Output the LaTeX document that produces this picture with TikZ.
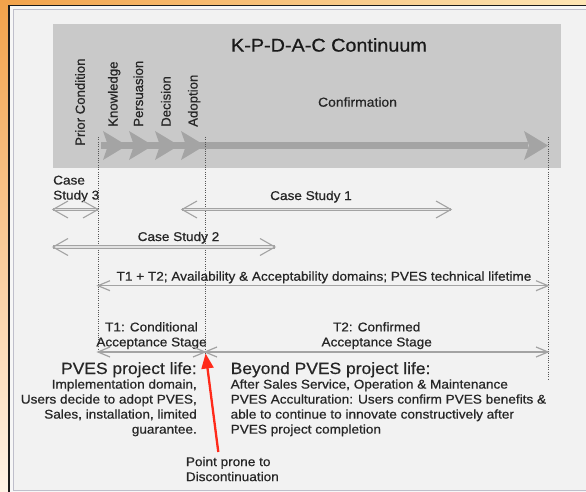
\documentclass[tikz,border=0pt]{standalone}
\usepackage{fontspec}
\setmainfont{Liberation Sans}[FakeStretch=1.07,FakeBold=0.6]
\newfontfamily\vfont{Liberation Sans}[FakeBold=0.6]
\usetikzlibrary{arrows.meta,shadings}
\definecolor{txt}{HTML}{262626}
\definecolor{panel}{HTML}{C9C9C9}
\definecolor{bgin}{HTML}{F2F2F2}
\definecolor{arr}{HTML}{A3A3A3}
\definecolor{dblin}{HTML}{E2E2E2}
\definecolor{chev}{HTML}{A4A4A4}
\definecolor{dotc}{HTML}{555555}
\definecolor{org1}{HTML}{F2A24A}
\definecolor{org2}{HTML}{FDE5B4}
\definecolor{org3}{HTML}{FFF3E6}
\definecolor{frame}{HTML}{1C1C1C}
\definecolor{inb}{HTML}{BFBFCB}
\definecolor{redarr}{HTML}{FF2A1A}
\begin{document}
\begin{tikzpicture}[x=1pt,y=-1pt,
  lbl/.style={font=\fontsize{12.7}{15}\selectfont, text=txt, inner sep=0pt},
  hdl/.style={font=\fontsize{16.3}{18}\selectfont, text=txt, inner sep=0pt},
  vlbl/.style={font=\vfont\fontsize{13.2}{15}\selectfont, text=txt, inner sep=0pt, rotate=90, anchor=base west},
  dshaft/.style={draw=arr, line width=1.1pt, double=dblin, double distance=1.3pt},
  dheadline/.style={draw=arr, line width=1.1pt},
  sshaft/.style={draw=arr, line width=1.4pt},
  sheadline/.style={draw=arr, line width=1.2pt},
  dotline/.style={draw=dotc, line width=1pt, dash pattern=on 1pt off 1.3pt},
  chevfill/.style={fill=chev},
  dheadL/.pic={\draw[dheadline] (15,-8.5) -- (0,0) -- (15,8.5);},
  sheadL/.pic={\draw[sheadline] (12,-5) -- (0,0) -- (12,5);},
  chevhd/.pic={\fill[chevfill] (-24,-14.5) -- (0,0) -- (-24,14.5) -- (-19,0) -- cycle;},
]
\useasboundingbox (0,0) rectangle (586,492);
\clip (0,0) rectangle (586,492);
% background frame
\shade[upper left=org1, upper right=org2, lower left=org3, lower right=white] (0,0) rectangle (586,492);
\filldraw[fill=white!97!black, draw=frame, line width=1.6pt] (8.8,5.6) rectangle (600,500);
\filldraw[fill=bgin, draw=inb, line width=1pt] (13.6,9.8) rectangle (600,490.6);
% panel
\fill[panel] (53.3,24) rectangle (561,168.3);
\node[font=\fontsize{18.5}{20}\selectfont, text=black!90, inner sep=0pt] (title) at (329,45) {K-P-D-A-C Continuum};
\node[font=\fontsize{13}{15}\selectfont, text=txt, inner sep=0pt, anchor=base] (conf) at (357.5,106.7) {Confirmation};
\node[vlbl] (prior) at (84.8,146) {Prior Condition};
\node[vlbl] (know) at (117.6,127) {Knowledge};
\node[vlbl] (pers) at (143,127) {Persuasion};
\node[vlbl] (deci) at (170.6,127) {Decision};
\node[vlbl] (adop) at (197.6,127) {Adoption};
% chevrons
\coordinate (k0) at (101,145.5);
\coordinate (k1) at (127,145.5);
\coordinate (k2) at (153,145.5);
\coordinate (k3) at (179,145.5);
\coordinate (k4) at (205,145.5);
\coordinate (k5) at (548,145.5);
\draw[draw=chev, line width=7pt] (k0) -- ([xshift=-20pt]k5);
\pic at (k1) {chevhd};
\pic at (k2) {chevhd};
\pic at (k3) {chevhd};
\pic at (k4) {chevhd};
\pic at (k5) {chevhd};
% dotted lines
\coordinate (d1t) at (98,137);   \coordinate (d1b) at (98,352);
\coordinate (d2t) at (205,137);  \coordinate (d2b) at (205,356);
\coordinate (d3t) at (548,137);  \coordinate (d3b) at (548,379);
\draw[dotline] (d1t) -- (d1b);
\draw[dotline] (d2t) -- (d2b);
\draw[dotline] (d3t) -- (d3b);
% case studies
\node[lbl, align=left, anchor=north west] (cs3) at (53,175.5) {Case\\Study 3};
\coordinate (cs3a) at (53,209.5); \coordinate (cs3b) at (98,209.5);
\draw[dshaft] (cs3a) -- (cs3b);
\pic at (cs3a) {dheadL};
\pic[xscale=-1] at (cs3b) {dheadL};
\node[lbl, anchor=base] (cs1) at (311,200) {Case Study 1};
\coordinate (cs1a) at (182,209.5); \coordinate (cs1b) at (451,209.5);
\draw[dshaft] (cs1a) -- (cs1b);
\pic at (cs1a) {dheadL};
\pic[xscale=-1] at (cs1b) {dheadL};
\node[lbl, anchor=base] (cs2) at (178.5,241) {Case Study 2};
\coordinate (cs2a) at (53,247); \coordinate (cs2b) at (275,247);
\draw[dshaft] (cs2a) -- (cs2b);
\pic at (cs2a) {dheadL};
\pic[xscale=-1] at (cs2b) {dheadL};
% T1 + T2
\node[lbl, anchor=base] (tt) at (324,280.7) {T1 + T2; Availability \& Acceptability domains; PVES technical lifetime};
\coordinate (tta) at (98,285.7); \coordinate (ttb) at (548,285.7);
\draw[sshaft] (tta) -- (ttb);
\pic at (tta) {sheadL};
\pic[xscale=-1] at (ttb) {sheadL};
% T1 and T2
\node[lbl, align=center, anchor=north] (t1) at (151.5,322) {T1: Conditional\\Acceptance Stage};
\node[lbl, align=center, anchor=north] (t2) at (376.7,322) {T2: Confirmed\\Acceptance Stage};
\coordinate (t1a) at (98,352); \coordinate (tm) at (205,352); \coordinate (t2b) at (548,352);
\draw[sshaft] (t1a) -- (tm);
\draw[sshaft] (tm) -- (t2b);
\pic at (t1a) {sheadL};
\pic[xscale=-1] at (tm) {sheadL};
\pic at (tm) {sheadL};
\pic[xscale=-1] at (t2b) {sheadL};
% project life texts
\node[hdl, anchor=base east] (plh) at (197,374) {PVES project life:};
\node[lbl, align=right, anchor=north east] (plb) at (197,379.2) {Implementation domain,\\Users decide to adopt PVES,\\Sales, installation, limited\\guarantee.};
\node[hdl, anchor=base west] (byh) at (230.5,374) {Beyond PVES project life:};
\node[lbl, align=left, anchor=north west] (byb) at (230.5,379.2) {After Sales Service, Operation \& Maintenance\\PVES Acculturation: Users confirm PVES benefits \&\\able to continue to innovate constructively after\\PVES project completion};
% point prone
\node[lbl, align=left, anchor=north west] (pp) at (185.7,456.7) {Point prone to\\Discontinuation};
\coordinate (rtail) at (218.3,452);
\coordinate (rtip) at (205.6,353.5);
\draw[draw=redarr, line width=2.3pt, -{Triangle[length=15pt,width=12pt]}] (rtail) -- (rtip);
\end{tikzpicture}
\end{document}
